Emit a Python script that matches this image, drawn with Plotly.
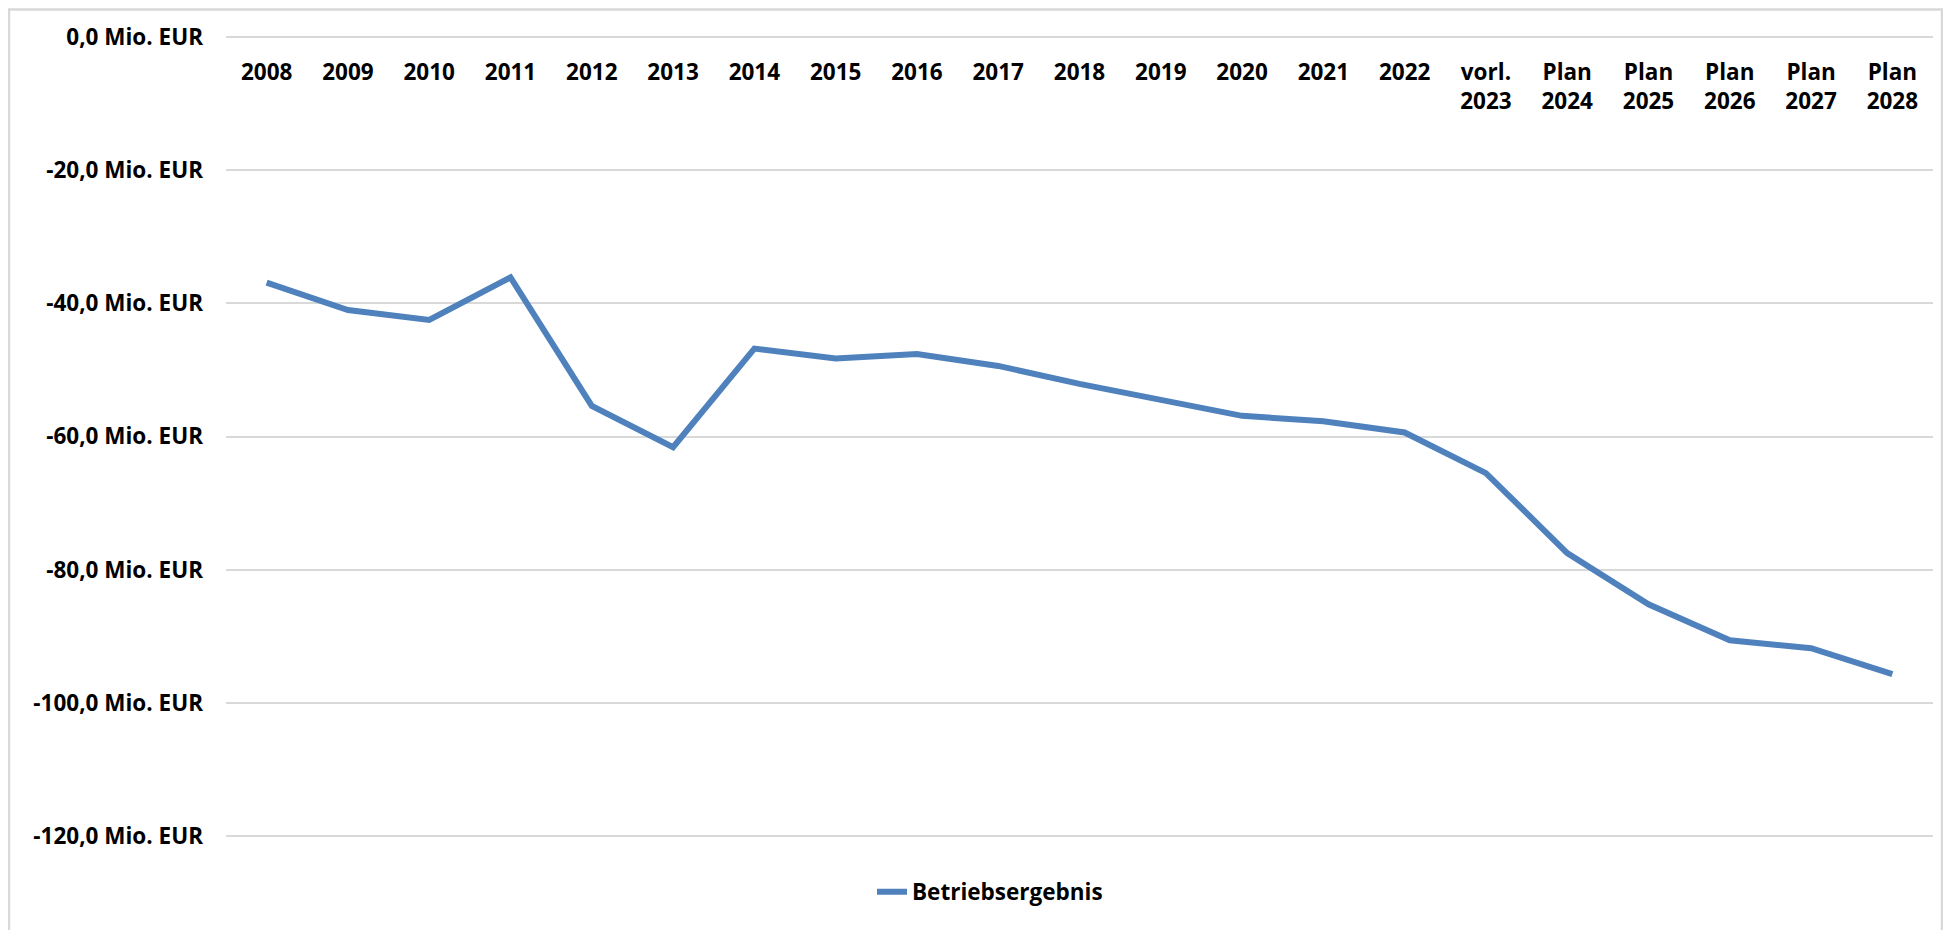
import plotly.graph_objects as go

categories = ["2008", "2009", "2010", "2011", "2012", "2013", "2014", "2015", "2016",
              "2017", "2018", "2019", "2020", "2021", "2022", "vorl.<br>2023",
              "Plan<br>2024", "Plan<br>2025", "Plan<br>2026", "Plan<br>2027", "Plan<br>2028"]
betriebsergebnis = [-36.9, -41.0, -42.5, -36.1, -55.4, -61.6, -46.8, -48.3, -47.6,
                    -49.4, -52.1, -54.5, -56.9, -57.7, -59.4, -65.5,
                    -77.5, -85.2, -90.6, -91.8, -95.7]
y_tickvals = [0, -20, -40, -60, -80, -100, -120]
y_ticktext = ["0,0 Mio. EUR", "-20,0 Mio. EUR", "-40,0 Mio. EUR", "-60,0 Mio. EUR",
              "-80,0 Mio. EUR", "-100,0 Mio. EUR", "-120,0 Mio. EUR"]

# page body has an 8px default margin; work in screen pixels and compensate
OFF = 8
W, H = 1951, 930
PAD = 3  # px of padding so edge gridlines are drawn
L = 226 - OFF
R = W - (1933 - OFF)
T = 37 - OFF - PAD
B = H - (836 - OFF + PAD)
pw, ph = W - L - R, H - T - B
pad_units = PAD * 120 / (836 - 37)


def px_x(p):
    return (p - OFF - L) / pw


def px_y(p):
    return (H - B - (p - OFF)) / ph


FONT = "Open Sans"
FS = 22.5
tf = dict(family=FONT, size=FS, color="#000000", weight="bold")

fig = go.Figure()
fig.add_trace(go.Scatter(
    x=list(range(len(categories))), y=betriebsergebnis, mode="lines",
    name="Betriebsergebnis",
    line=dict(color="#4f81bd", width=6),
))

fig.update_layout(
    width=W, height=H,
    margin=dict(l=L, r=R, t=T, b=B, pad=0),
    paper_bgcolor="white", plot_bgcolor="white",
    font=tf,
    showlegend=True,
    legend=dict(orientation="h", x=px_x(990), xanchor="center",
                y=px_y(892), yanchor="middle",
                font=tf, bgcolor="rgba(0,0,0,0)"),
    xaxis=dict(
        type="linear", range=[-0.5, len(categories) - 0.5],
        tickmode="array", tickvals=list(range(len(categories))), ticktext=categories,
        showgrid=False, zeroline=False, showline=False,
        anchor="free", position=px_y(37), side="bottom",
        ticks="", ticklabelstandoff=19,
        tickfont=tf,
    ),
    yaxis=dict(
        range=[-120 - pad_units, 0 + pad_units],
        tickmode="array", tickvals=y_tickvals, ticktext=y_ticktext,
        showgrid=True, gridcolor="#d9d9d9", gridwidth=2,
        zeroline=False, showline=False, ticks="", ticklabelstandoff=22,
        tickfont=tf,
    ),
    shapes=[dict(type="rect", xref="paper", yref="paper",
                 x0=px_x(9), x1=px_x(1942), y0=px_y(960), y1=px_y(9.5),
                 line=dict(color="#d9d9d9", width=2.5), fillcolor="rgba(0,0,0,0)",
                 layer="below")],
)

fig.write_html("out.html")
